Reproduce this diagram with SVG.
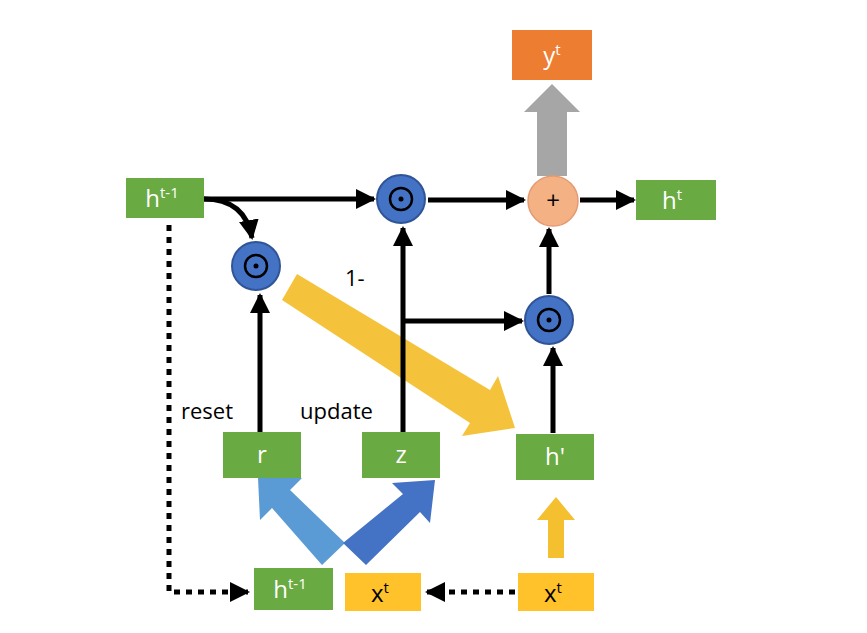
<svg xmlns="http://www.w3.org/2000/svg" width="867" height="633" viewBox="0 0 867 633">
<defs>
<marker id="ah" viewBox="0 0 10 10" refX="9" refY="5" markerWidth="4" markerHeight="4" orient="auto"><path d="M0,0 L10,5 L0,10 z" fill="#000"/></marker>
<linearGradient id="gy" x1="0" y1="0" x2="1" y2="1"><stop offset="0" stop-color="#f5c342"/><stop offset="1" stop-color="#f2b92a"/></linearGradient>
<style>
.g{fill:#6aaa42}.o{fill:#ed7d31}.y{fill:#ffc22a}
.t{font-family:"Open Sans","Liberation Sans",sans-serif;font-size:24px;text-anchor:middle}
.w{fill:#fff}.k{fill:#000}
.c{fill:#4472c4;stroke:#2f5597;stroke-width:2}
.s{stroke:#000;stroke-width:5;fill:none}
.d{stroke:#000;stroke-width:5;fill:none;stroke-dasharray:6,6}
.lb{font-family:"Open Sans","Liberation Sans",sans-serif;font-size:22px;fill:#000}
</style>
</defs>
<rect width="867" height="633" fill="#fff"/>
<g id="bigarrows">
<path d="M537,176 V112 H524 L552,84 L580,112 H567 V176 Z" fill="#a6a6a6"/>
<path d="M282,300 L297,274 L490,390 L498,376 L515,428 L462,436 L470,423 Z" fill="#f4c030" opacity="0.95"/>
<path d="M322,565 L345,543 L290,490 L302,478 L258,478 L260,520 L272,508 Z" fill="#5b9bd5"/>
<path d="M343,543 L366,565 L420,512 L430,523 L435,480 L392,483 L403,494 Z" fill="#4472c4"/>
<path d="M548,558 V520 H537 L556,497 L575,520 H564 V558 Z" fill="#f4c030"/>
</g>
<g id="connectors">
<line class="s" x1="204" y1="199" x2="374" y2="199" marker-end="url(#ah)"/>
<path class="s" d="M204,199 Q245,199 252,238" marker-end="url(#ah)"/>
<line class="s" x1="428" y1="200" x2="524" y2="200" marker-end="url(#ah)"/>
<line class="s" x1="580" y1="200" x2="634" y2="200" marker-end="url(#ah)"/>
<line class="s" x1="549" y1="294" x2="549" y2="229" marker-end="url(#ah)"/>
<line class="s" x1="553" y1="433" x2="553" y2="348" marker-end="url(#ah)"/>
<line class="s" x1="403" y1="432" x2="403" y2="228" marker-end="url(#ah)"/>
<line class="s" x1="403" y1="321" x2="522" y2="321" marker-end="url(#ah)"/>
<line class="s" x1="260" y1="432" x2="260" y2="295" marker-end="url(#ah)"/>
<path class="d" d="M169,225 V592 H248" marker-end="url(#ah)"/>
<line class="d" x1="515" y1="592" x2="427" y2="592" marker-end="url(#ah)"/>
</g>
<g id="yt"><rect class="o" x="512" y="30" width="80" height="50"/><text class="t w" x="552" y="64">y<tspan dy="-9" font-size="15">t</tspan></text></g>
<g id="htm1"><rect class="g" x="126" y="178" width="78" height="40"/><text class="t w" x="162" y="207">h<tspan dy="-9" font-size="15">t-1</tspan></text></g>
<g id="ht"><rect class="g" x="636" y="180" width="80" height="40"/><text class="t w" x="672" y="209">h<tspan dy="-9" font-size="15">t</tspan></text></g>
<g id="r"><rect class="g" x="223" y="432" width="78" height="46"/><text class="t w" x="262" y="463">r</text></g>
<g id="z"><rect class="g" x="362" y="432" width="78" height="46"/><text class="t w" x="401" y="463">z</text></g>
<g id="hp"><rect class="g" x="516" y="434" width="78" height="46"/><text class="t w" x="555" y="465">h'</text></g>
<g id="hb"><rect class="g" x="254" y="568" width="79" height="42"/><text class="t w" x="290" y="598">h<tspan dy="-9" font-size="15">t-1</tspan></text></g>
<g id="xm"><rect class="y" x="345" y="573" width="76" height="38"/><text class="t k" x="380" y="602">x<tspan dy="-9" font-size="15">t</tspan></text></g>
<g id="xr"><rect class="y" x="518" y="573" width="76" height="38"/><text class="t k" x="553" y="602">x<tspan dy="-9" font-size="15">t</tspan></text></g>
<g id="c1"><circle class="c" cx="256" cy="266" r="24"/><circle cx="256" cy="266" r="11" fill="none" stroke="#000" stroke-width="2.5"/><circle cx="256" cy="266" r="2.5"/></g>
<g id="c2"><circle class="c" cx="401" cy="199" r="24"/><circle cx="401" cy="199" r="11" fill="none" stroke="#000" stroke-width="2.5"/><circle cx="401" cy="199" r="2.5"/></g>
<g id="c3"><circle class="c" cx="549" cy="320" r="24"/><circle cx="549" cy="320" r="11" fill="none" stroke="#000" stroke-width="2.5"/><circle cx="549" cy="320" r="2.5"/></g>
<g id="plus"><circle cx="553" cy="201" r="25" fill="#f4b183" stroke="#e69a72" stroke-width="1.5"/><text class="t k" x="553" y="209" font-size="20">+</text></g>
<g id="labels">
<text class="lb" x="345" y="286">1-</text>
<text class="lb" x="181" y="419">reset</text>
<text class="lb" x="300" y="419">update</text>
</g>
</svg>
